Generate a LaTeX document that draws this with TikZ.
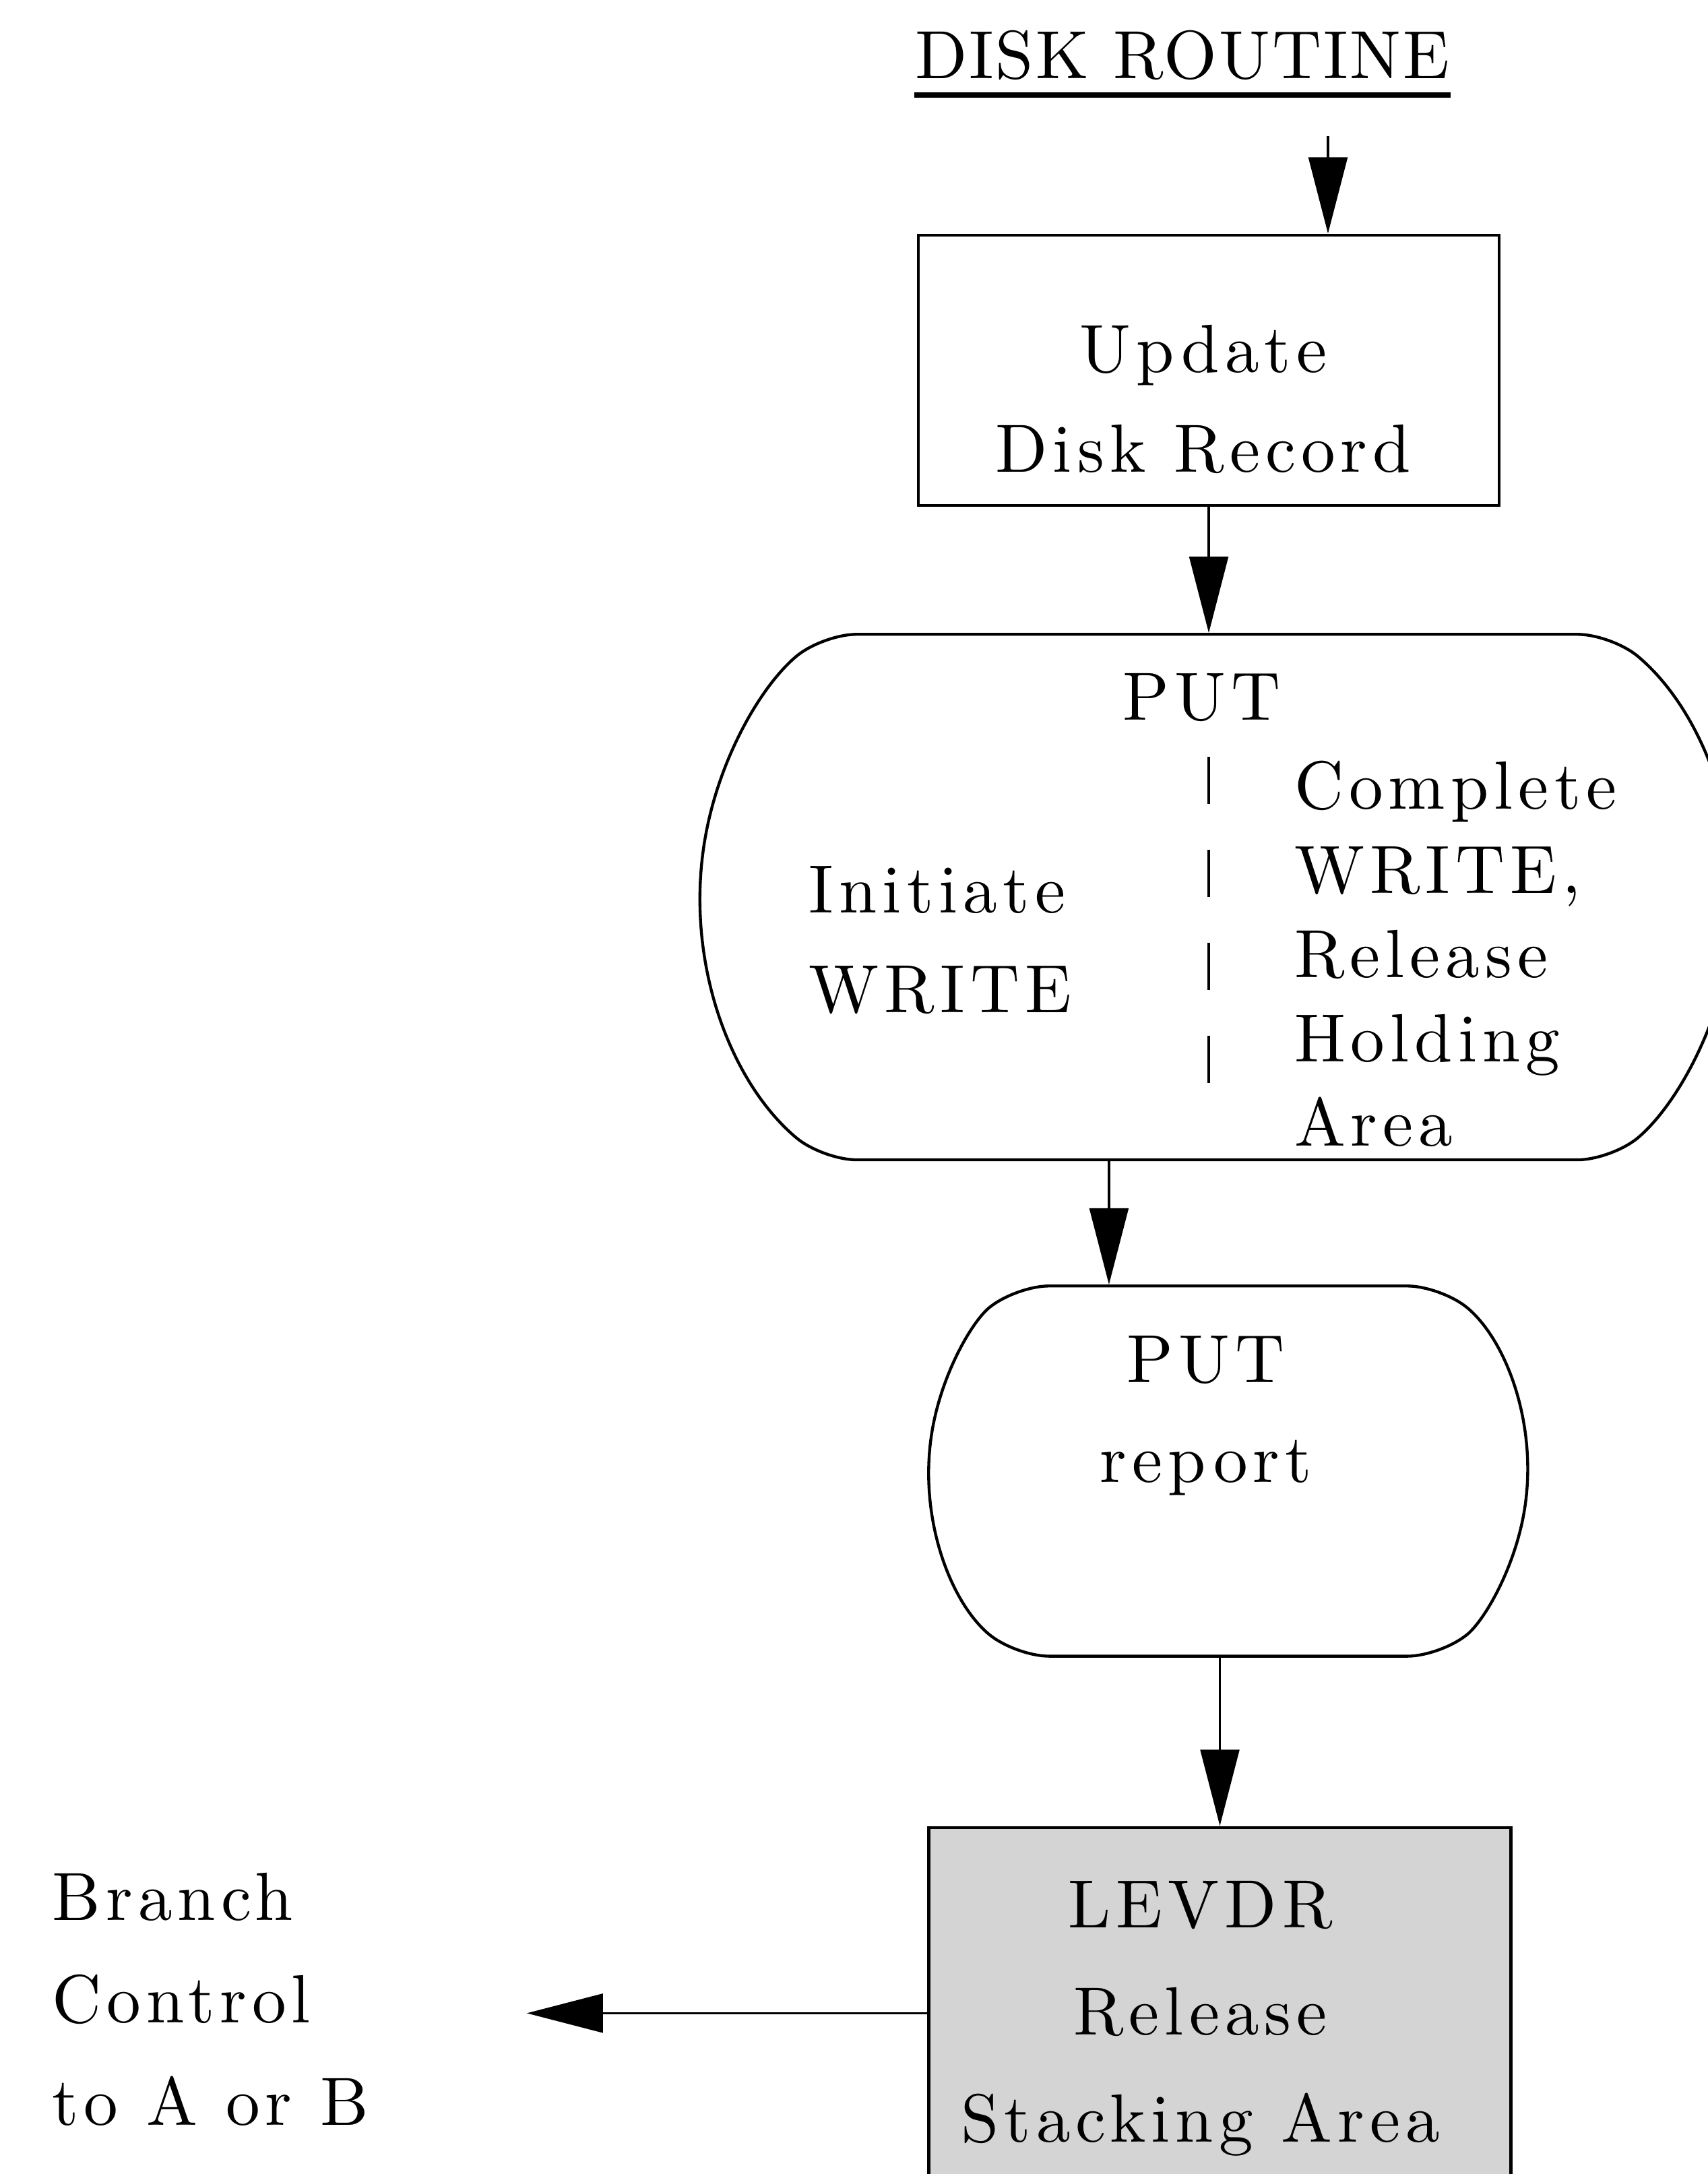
\documentclass[tikz,border=0pt]{standalone}
\usepackage{fontspec}
\setmainfont{lmroman10-regular.otf}
\usetikzlibrary{shapes.misc,arrows.meta}

\begin{document}
\begin{tikzpicture}
	[x=0.1mm,y=-0.1mm,
	every node/.style={inner sep=0pt},
	txt/.style={font=\fontsize{14}{#1}\selectfont\addfontfeatures{LetterSpace=8}},
	txt/.default=20.5,
	procbox/.style={draw,line width=0.6pt,rectangle},
	termbox/.style={draw,line width=0.6pt,rounded rectangle,rounded rectangle arc length=100,rounded corners=7pt},
	arr/.style={-{Triangle[length=5.5mm,width=2.8mm]},line width=0.5pt}]
	\useasboundingbox (0,0) rectangle (1232,1568);

	% title
	\node[font=\fontsize{14}{17}\selectfont\addfontfeatures{LetterSpace=3}] (title) at (853,40) {DISK ROUTINE};
	\draw[line width=1.2pt] ([yshift=-1mm]title.south west) -- ([yshift=-1mm]title.south east);

	% boxes
	\node[procbox,minimum width=41.9mm,minimum height=19.5mm] (upd) at (872,267) {};
	\node[termbox,minimum width=74.6mm,minimum height=37.9mm] (put) at (878,647) {};
	\node[termbox,minimum width=43.2mm,minimum height=26.7mm] (rep) at (886,1061) {};
	\node[procbox,fill=black!17,minimum width=42mm,minimum height=30mm] (lev) at (880,1468) {};

	% texts
	\node[txt,align=center] (updtxt) at (868,288) {Update\\Disk Record};
	\node[txt] (puttxt) at (867,503) {PUT};
	\node[txt,align=left,anchor=west] (initxt) at (583,678) {Initiate\\WRITE};
	\node[txt=17.3,align=left,anchor=west] (cpltxt) at (933,688) {Complete\\WRITE,\\Release\\Holding\\Area};
	\node[txt,align=center] (reptxt) at (870,1021) {PUT\\report};
	\node[txt=22,align=center] (levtxt) at (866,1456) {LEVDR\\Release\\Stacking Area};
	\node[txt=21,align=left,anchor=west] (brtxt) at (37,1442) {Branch\\Control\\to A or B};

	\draw[line width=0.6pt,dash pattern=on 3.4mm off 3.3mm] (872,546) -- (872,781);

	% connectors
	\coordinate (in) at (958,98);
	\coordinate (out) at (380,1452);
	\draw[arr] (in) -- (in |- upd.north);
	\draw[arr] (upd.south) -- (upd.south |- put.north);
	\draw[arr] ([xshift=-7.8mm]put.south) -- ([xshift=-7.8mm]put.south |- rep.north);
	\draw[arr] (rep.south -| lev.north) -- (lev.north);
	\draw[arr] (lev.west |- out) -- (out);
\end{tikzpicture}
\end{document}
